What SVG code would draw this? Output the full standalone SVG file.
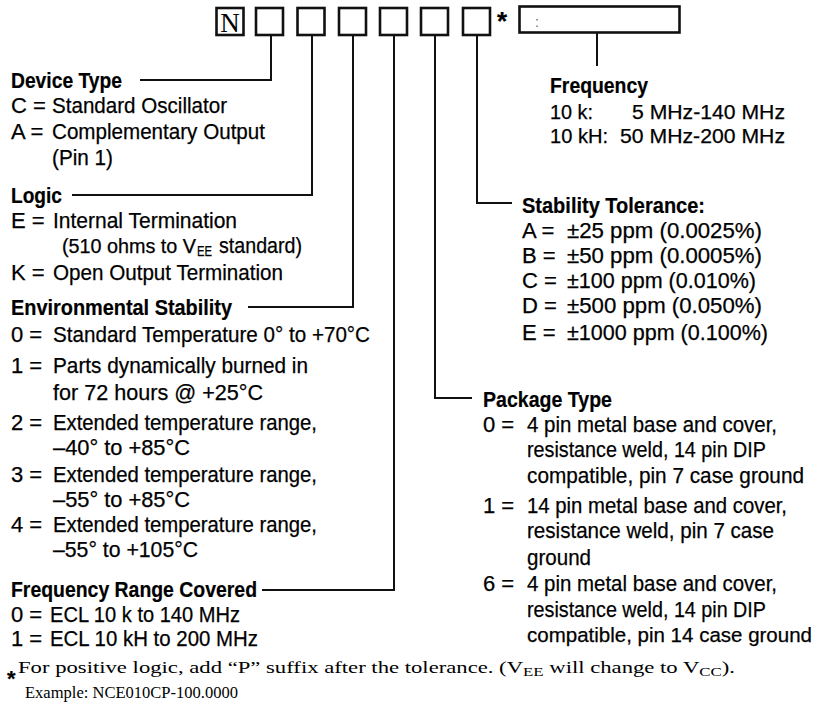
<svg xmlns="http://www.w3.org/2000/svg" width="821" height="714" viewBox="0 0 821 714">
<style>
.t{font-family:"Liberation Sans","Arial",sans-serif;font-size:22px;fill:#000;stroke:#000;stroke-width:0.25}
.b{font-weight:bold;stroke-width:0.2}
.box{fill:none;stroke:#111;stroke-width:2.6}
.conn{fill:none;stroke:#111;stroke-width:2}
.fn{font-family:"Liberation Serif","Times New Roman",serif;font-size:17.5px;fill:#000}
.sub{font-size:13px}
</style>
<rect width="821" height="714" fill="#fff"/>

<g id="code-boxes">
  <g id="box-n"><rect class="box" x="216.5" y="8" width="27" height="27"/><text x="230" y="32" text-anchor="middle" style="font-family:'Liberation Serif',serif;font-size:27px;fill:#000">N</text></g>
  <g id="box-device"><rect class="box" x="256" y="8" width="27" height="27"/></g>
  <g id="box-logic"><rect class="box" x="297.5" y="8" width="27" height="27"/></g>
  <g id="box-env"><rect class="box" x="339" y="8" width="27" height="27"/></g>
  <g id="box-range"><rect class="box" x="380" y="8" width="27" height="27"/></g>
  <g id="box-package"><rect class="box" x="421" y="8" width="27" height="27"/></g>
  <g id="box-tolerance"><rect class="box" x="463" y="8" width="27" height="27"/></g>
  <g id="asterisk"><text class="t b" x="502" y="30" text-anchor="middle" style="font-size:26px">*</text></g>
  <g id="box-frequency"><rect class="box" x="519.5" y="6.5" width="160" height="26"/><text x="535" y="27" style="font-family:'Liberation Sans',sans-serif;font-size:14px;fill:#666">:</text></g>
</g>

<g id="connectors">
  <path class="conn" d="M271 35 V80 H140"/>
  <path class="conn" d="M312 35 V195 H72"/>
  <path class="conn" d="M353 35 V307 H248"/>
  <path class="conn" d="M394 35 V590 H262"/>
  <path class="conn" d="M435 35 V398 H472"/>
  <path class="conn" d="M477 35 V203 H512"/>
  <path class="conn" d="M597 33 V66"/>
</g>

<g id="device-type">
  <text class="t b" x="11" y="88" textLength="111" lengthAdjust="spacingAndGlyphs">Device Type</text>
  <text class="t" x="11" y="113">C =</text>
  <text class="t" x="52" y="113" textLength="175" lengthAdjust="spacingAndGlyphs">Standard Oscillator</text>
  <text class="t" x="11" y="139">A =</text>
  <text class="t" x="52" y="139" textLength="213" lengthAdjust="spacingAndGlyphs">Complementary Output</text>
  <text class="t" x="52" y="165" textLength="61" lengthAdjust="spacingAndGlyphs">(Pin 1)</text>
</g>

<g id="logic">
  <text class="t b" x="11" y="203" textLength="51" lengthAdjust="spacingAndGlyphs">Logic</text>
  <text class="t" x="11" y="228">E =</text>
  <text class="t" x="53" y="228" textLength="184" lengthAdjust="spacingAndGlyphs">Internal Termination</text>
  <text class="t" x="62" y="253" style="font-size:19.5px" textLength="134" lengthAdjust="spacingAndGlyphs">(510 ohms to V</text>
  <text class="t" x="197" y="256" style="font-size:15px" textLength="15" lengthAdjust="spacingAndGlyphs">EE</text>
  <text class="t" x="219" y="253" textLength="83" lengthAdjust="spacingAndGlyphs">standard)</text>
  <text class="t" x="11" y="280">K =</text>
  <text class="t" x="53" y="280" textLength="230" lengthAdjust="spacingAndGlyphs">Open Output Termination</text>
</g>

<g id="environmental-stability">
  <text class="t b" x="11" y="315" textLength="221" lengthAdjust="spacingAndGlyphs">Environmental Stability</text>
  <text class="t" x="11" y="342">0 =</text>
  <text class="t" x="53" y="342" textLength="317" lengthAdjust="spacingAndGlyphs">Standard Temperature 0° to +70°C</text>
  <text class="t" x="11" y="373">1 =</text>
  <text class="t" x="53" y="373" textLength="255" lengthAdjust="spacingAndGlyphs">Parts dynamically burned in</text>
  <text class="t" x="53" y="400" textLength="210" lengthAdjust="spacingAndGlyphs">for 72 hours @ +25°C</text>
  <text class="t" x="11" y="430">2 =</text>
  <text class="t" x="53" y="430" textLength="264" lengthAdjust="spacingAndGlyphs">Extended temperature range,</text>
  <text class="t" x="53" y="455" textLength="137" lengthAdjust="spacingAndGlyphs">–40° to +85°C</text>
  <text class="t" x="11" y="482">3 =</text>
  <text class="t" x="53" y="482" textLength="264" lengthAdjust="spacingAndGlyphs">Extended temperature range,</text>
  <text class="t" x="53" y="507" textLength="137" lengthAdjust="spacingAndGlyphs">–55° to +85°C</text>
  <text class="t" x="11" y="532">4 =</text>
  <text class="t" x="53" y="532" textLength="264" lengthAdjust="spacingAndGlyphs">Extended temperature range,</text>
  <text class="t" x="53" y="557" textLength="145" lengthAdjust="spacingAndGlyphs">–55° to +105°C</text>
</g>

<g id="frequency-range">
  <text class="t b" x="11" y="597" textLength="246" lengthAdjust="spacingAndGlyphs">Frequency Range Covered</text>
  <text class="t" x="11" y="622">0 =</text>
  <text class="t" x="50" y="622" textLength="190" lengthAdjust="spacingAndGlyphs">ECL 10 k to 140 MHz</text>
  <text class="t" x="11" y="646">1 =</text>
  <text class="t" x="50" y="646" textLength="208" lengthAdjust="spacingAndGlyphs">ECL 10 kH to 200 MHz</text>
</g>

<g id="frequency">
  <text class="t b" x="550" y="93" textLength="98" lengthAdjust="spacingAndGlyphs">Frequency</text>
  <text class="t" x="550" y="119" style="font-size:20.5px" textLength="43" lengthAdjust="spacingAndGlyphs">10 k:</text>
  <text class="t" x="632" y="119" style="font-size:20.5px" textLength="153" lengthAdjust="spacingAndGlyphs">5 MHz-140 MHz</text>
  <text class="t" x="550" y="143" style="font-size:20.5px" textLength="58" lengthAdjust="spacingAndGlyphs">10 kH:</text>
  <text class="t" x="620" y="143" style="font-size:20.5px" textLength="165" lengthAdjust="spacingAndGlyphs">50 MHz-200 MHz</text>
</g>

<g id="stability-tolerance">
  <text class="t b" x="522" y="213" textLength="183" lengthAdjust="spacingAndGlyphs">Stability Tolerance:</text>
  <text class="t" x="522" y="238">A =</text>
  <text class="t" x="567" y="238" textLength="195" lengthAdjust="spacingAndGlyphs">±25 ppm (0.0025%)</text>
  <text class="t" x="522" y="263">B =</text>
  <text class="t" x="567" y="263" textLength="195" lengthAdjust="spacingAndGlyphs">±50 ppm (0.0005%)</text>
  <text class="t" x="522" y="288">C =</text>
  <text class="t" x="567" y="288" textLength="189" lengthAdjust="spacingAndGlyphs">±100 ppm (0.010%)</text>
  <text class="t" x="522" y="313">D =</text>
  <text class="t" x="567" y="313" textLength="195" lengthAdjust="spacingAndGlyphs">±500 ppm (0.050%)</text>
  <text class="t" x="522" y="340">E =</text>
  <text class="t" x="567" y="340" textLength="201" lengthAdjust="spacingAndGlyphs">±1000 ppm (0.100%)</text>
</g>

<g id="package-type">
  <text class="t b" x="483" y="407" textLength="129" lengthAdjust="spacingAndGlyphs">Package Type</text>
  <text class="t" x="483" y="432">0 =</text>
  <text class="t" x="527" y="432" textLength="250" lengthAdjust="spacingAndGlyphs">4 pin metal base and cover,</text>
  <text class="t" x="527" y="457" textLength="239" lengthAdjust="spacingAndGlyphs">resistance weld, 14 pin DIP</text>
  <text class="t" x="527" y="483" textLength="277" lengthAdjust="spacingAndGlyphs">compatible, pin 7 case ground</text>
  <text class="t" x="483" y="513">1 =</text>
  <text class="t" x="527" y="513" textLength="260" lengthAdjust="spacingAndGlyphs">14 pin metal base and cover,</text>
  <text class="t" x="527" y="538" textLength="247" lengthAdjust="spacingAndGlyphs">resistance weld, pin 7 case</text>
  <text class="t" x="527" y="565" textLength="64" lengthAdjust="spacingAndGlyphs">ground</text>
  <text class="t" x="483" y="591">6 =</text>
  <text class="t" x="527" y="591" textLength="250" lengthAdjust="spacingAndGlyphs">4 pin metal base and cover,</text>
  <text class="t" x="527" y="617" textLength="239" lengthAdjust="spacingAndGlyphs">resistance weld, 14 pin DIP</text>
  <text class="t" x="527" y="642" style="font-size:20.5px" textLength="285" lengthAdjust="spacingAndGlyphs">compatible, pin 14 case ground</text>
</g>

<g id="footnote">
  <text class="t b" x="7" y="686" style="font-size:22px">*</text>
  <text class="fn" x="18" y="673" textLength="717" lengthAdjust="spacingAndGlyphs">For positive logic, add “P” suffix after the tolerance. (V<tspan class="sub" dy="3">EE</tspan><tspan dy="-3"> will change to V</tspan><tspan class="sub" dy="3">CC</tspan><tspan dy="-3">).</tspan></text>
  <text class="fn" x="25" y="698" textLength="213" lengthAdjust="spacingAndGlyphs">Example: NCE010CP-100.0000</text>
</g>
</svg>
